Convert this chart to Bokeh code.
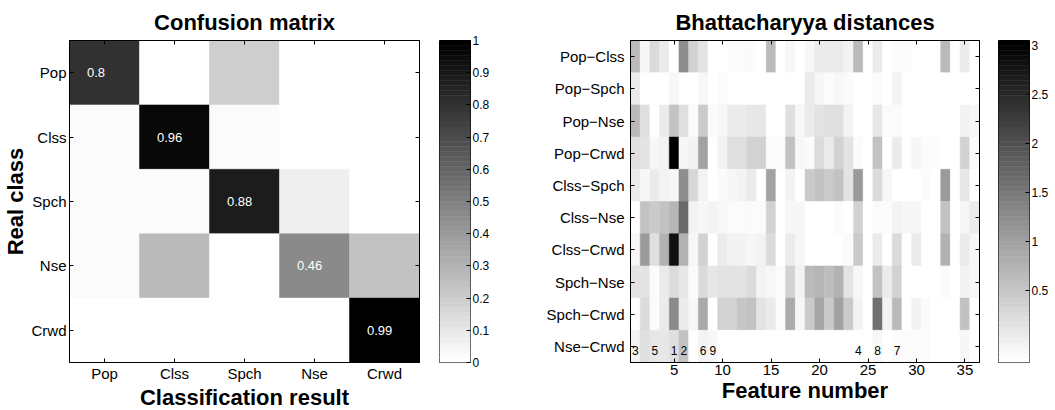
import numpy as np
from bokeh.plotting import figure
from bokeh.models import Range1d, FixedTicker, LinearAxis, ColumnDataSource, LinearColorMapper
from bokeh.layouts import row
from bokeh.embed import file_html
from bokeh.resources import INLINE
from bokeh.transform import transform
from bokeh.core.properties import value

# ---------------- data ----------------
classes = ["Pop", "Clss", "Spch", "Nse", "Crwd"]
conf_pop = [0.80, 0.00, 0.20, 0.00, 0.00]
conf_clss = [0.02, 0.96, 0.02, 0.00, 0.00]
conf_spch = [0.03, 0.02, 0.88, 0.07, 0.00]
conf_nse = [0.03, 0.27, 0.00, 0.46, 0.24]
conf_crwd = [0.00, 0.00, 0.00, 0.01, 0.99]
conf_ticks = [0, 0.1, 0.2, 0.3, 0.4, 0.5, 0.6, 0.7, 0.8, 0.9, 1]

pairs = ["Pop\u2212Clss", "Pop\u2212Spch", "Pop\u2212Nse", "Pop\u2212Crwd", "Clss\u2212Spch",
         "Clss\u2212Nse", "Clss\u2212Crwd", "Spch\u2212Nse", "Spch\u2212Crwd", "Nse\u2212Crwd"]
pop_clss = [0.68, -0.10, 0.27, 0.03, -0.23, 1.21, 0.37, 0.17, -0.23, -0.23, -0.17, -0.17,
            -0.14, -0.23, 0.68, -0.23, -0.10, -0.23, -0.10, 0.03, 0.03, 0.03, -0.04, 0.68,
            -0.23, 0.03, -0.23, -0.17, -0.17, -0.23, -0.23, -0.23, 0.68, -0.23, 0.03, -0.23]
pop_spch = [0.03, -0.23, -0.23, -0.23, -0.10, -0.23, -0.23, -0.10, -0.23, -0.17, -0.23, -0.23,
            -0.23, -0.23, -0.23, -0.23, -0.23, -0.23, 0.03, -0.10, -0.14, -0.10, -0.17, -0.23,
            -0.23, -0.17, -0.23, -0.04, -0.23, -0.23, -0.23, -0.23, -0.23, -0.23, -0.23, -0.23]
pop_nse = [0.68, 0.22, -0.23, 0.03, 0.58, 0.22, -0.14, 0.48, -0.14, -0.10, 0.03, 0.03,
           0.09, 0.09, -0.23, -0.23, 0.22, -0.10, 0.03, 0.17, 0.22, 0.22, -0.04, -0.23,
           -0.23, 0.09, -0.14, -0.14, -0.23, -0.23, -0.23, -0.23, -0.23, -0.23, -0.04, -0.10]
pop_crwd = [0.22, 0.17, -0.10, -0.04, 3.05, -0.10, -0.04, 0.99, -0.23, -0.04, 0.22, 0.22,
            0.37, 0.37, -0.17, -0.17, 0.58, -0.10, -0.14, 0.27, 0.03, 0.37, 0.17, -0.17,
            -0.23, 0.58, -0.23, 0.03, -0.23, -0.10, -0.14, -0.14, -0.23, -0.23, 0.37, -0.17]
clss_spch = [0.03, -0.10, 0.03, -0.04, -0.10, 1.21, 0.31, -0.04, -0.23, -0.17, -0.10, -0.04,
             0.03, -0.23, 0.99, -0.23, -0.04, -0.23, 0.48, 0.58, 0.48, 0.58, 0.17, 1.09,
             -0.23, 0.27, -0.10, -0.23, -0.23, -0.23, -0.17, -0.23, 1.09, -0.23, 0.09, -0.23]
clss_nse = [-0.23, 0.58, 0.48, 0.58, 0.72, 1.71, -0.04, -0.10, -0.04, -0.10, -0.17, -0.17,
            -0.17, -0.17, 0.37, -0.23, -0.10, -0.10, -0.23, -0.23, -0.23, -0.17, -0.23, 0.37,
            -0.23, -0.14, -0.14, -0.04, -0.10, -0.10, -0.23, -0.23, 0.58, -0.23, -0.10, 0.03]
clss_crwd = [-0.10, 1.09, 0.22, 0.79, 2.84, 0.79, -0.10, 0.37, -0.23, 0.03, -0.04, -0.04,
             -0.10, -0.04, 0.27, -0.23, 0.03, -0.10, -0.23, -0.23, -0.23, -0.23, -0.17, 0.48,
             -0.23, 0.03, -0.23, 0.27, -0.23, 0.03, -0.23, -0.23, 0.79, -0.23, 0.07, -0.10]
spch_nse = [0.17, 0.17, -0.17, 0.03, 0.27, 0.09, -0.17, 0.27, 0.09, 0.17, 0.17, 0.17,
            0.27, -0.04, -0.10, -0.17, 0.37, -0.04, 0.68, 0.72, 0.60, 0.79, 0.17, -0.10,
            -0.23, 0.58, 0.03, 0.37, -0.23, -0.23, -0.23, -0.23, -0.17, -0.23, -0.04, -0.10]
spch_crwd = [-0.23, 0.27, -0.17, 0.03, 1.27, 0.03, -0.10, 0.89, -0.23, 0.37, 0.37, 0.52,
             0.58, 0.17, 0.03, -0.17, 0.89, -0.10, 0.48, 0.93, 0.48, 0.95, 0.48, -0.04,
             -0.23, 1.61, -0.04, 0.68, -0.23, -0.04, -0.17, -0.23, -0.23, -0.23, 0.58, -0.23]
nse_crwd = [-0.04, 0.22, 0.09, 0.09, 0.22, 0.58, -0.23, -0.04, -0.10, -0.23, -0.23, -0.23,
            -0.23, -0.23, -0.23, -0.23, -0.23, -0.23, -0.23, -0.23, -0.23, -0.23, -0.23, -0.23,
            -0.23, -0.10, -0.23, -0.17, -0.17, -0.14, -0.14, -0.23, -0.23, -0.23, -0.10, -0.23]
feature_ticks = [5, 10, 15, 20, 25, 30, 35]
dist_ticks = [0.5, 1, 1.5, 2, 2.5, 3]
dist_low, dist_high = -0.23, 3.05
rank_features = [1, 3, 5, 6, 8, 9, 24, 26, 28]
rank_labels = ["3", "5", "1", "2", "6", "9", "4", "8", "7"]

# ---------------- styling ----------------
FONT = "Liberation Sans"
grey64 = ["#%02x%02x%02x" % (g, g, g) for g in np.linspace(255, 0, 64).round().astype(int)]
TOP = 40
BOTTOM = 46
FH = 322
BIG = "22px"


def style_axis(ax, size="15px", standoff=3):
    ax.major_tick_in = 4
    ax.major_tick_out = 0
    ax.minor_tick_line_color = None
    ax.axis_line_color = "black"
    ax.major_tick_line_color = "black"
    ax.major_label_text_font = FONT
    ax.major_label_text_color = "black"
    ax.major_label_standoff = standoff
    ax.major_label_text_font_size = size
    ax.axis_label_text_font = FONT
    ax.axis_label_text_font_style = "bold"
    ax.axis_label_text_font_size = BIG
    ax.axis_label_text_color = "black"
    ax.axis_label_standoff = 0


def tick_only_axis(p, ticks, loc):
    # frame ticks without labels (drawn as minor ticks, which carry no labels)
    ax = LinearAxis(ticker=FixedTicker(ticks=[], minor_ticks=ticks))
    ax.minor_tick_in = 4
    ax.minor_tick_out = 0
    ax.minor_tick_line_color = "black"
    ax.major_tick_line_color = None
    ax.axis_line_color = "black"
    ax.major_label_standoff = 0
    p.add_layout(ax, loc)


def base_fig(xr, yr, fw, title, bl, br):
    p = figure(frame_width=fw, frame_height=FH, x_range=xr, y_range=yr,
               output_backend="svg", toolbar_location=None, title=title,
               min_border_left=bl, min_border_right=br, min_border_top=TOP,
               min_border_bottom=BOTTOM)
    p.title.text_font = FONT
    p.title.text_font_size = BIG
    p.title.text_font_style = "bold"
    p.title.align = "center"
    p.title.text_color = "black"
    p.title.standoff = 12
    p.xgrid.visible = False
    p.ygrid.visible = False
    p.outline_line_color = "black"
    p.background_fill_color = "white"
    return p


def colorbar_fig(mapper, ticks, lo, hi, bl, br, label_size="12px"):
    cb = figure(frame_width=31, frame_height=FH, x_range=Range1d(0, 1), y_range=Range1d(lo, hi),
                output_backend="svg", toolbar_location=None, min_border_left=bl,
                min_border_right=br, min_border_top=TOP, min_border_bottom=BOTTOM)
    n = len(mapper.palette)
    edges = np.linspace(lo, hi, n + 1)
    cb.quad(left=0, right=1, bottom=edges[:-1], top=edges[1:],
            fill_color=mapper.palette, line_color=mapper.palette, line_width=0.5)
    cb.xaxis.visible = False
    cb.yaxis.visible = False
    cb.xgrid.visible = False
    cb.ygrid.visible = False
    cb.outline_line_color = "black"
    ax = LinearAxis(ticker=FixedTicker(ticks=ticks))
    style_axis(ax, label_size, standoff=2)
    ax.axis_line_color = None
    cb.add_layout(ax, "right")
    return cb


# ---------------- confusion matrix ----------------
conf_rows = [conf_pop, conf_clss, conf_spch, conf_nse, conf_crwd]
cx, cy, cv = [], [], []
for i, r in enumerate(conf_rows):
    for j, v in enumerate(r):
        cx.append(j + 1)
        cy.append(i + 1)
        cv.append(v)
conf_map = LinearColorMapper(palette=grey64, low=0, high=1)
p1 = base_fig(Range1d(0.5, 5.5), Range1d(5.5, 0.5), 350, "Confusion matrix", 66, 10)
p1.rect(x="x", y="y", width=1, height=1, source=ColumnDataSource(dict(x=cx, y=cy, v=cv)),
        fill_color=transform("v", conf_map), line_color=transform("v", conf_map), line_width=0.5)
diag = [conf_rows[i][i] for i in range(5)]
p1.text(x=[i + 1 - 0.25 for i in range(5)], y=[i + 1 for i in range(5)],
        text=[f"{v:g}" for v in diag], text_color="white", text_font=value(FONT),
        text_font_size="13px", text_align="left", text_baseline="middle")
cls_over = {i + 1: c for i, c in enumerate(classes)}
p1.xaxis[0].ticker = FixedTicker(ticks=[1, 2, 3, 4, 5])
p1.xaxis[0].major_label_overrides = cls_over
style_axis(p1.xaxis[0], "15px", standoff=2)
p1.yaxis[0].ticker = FixedTicker(ticks=[1, 2, 3, 4, 5])
p1.yaxis[0].major_label_overrides = cls_over
style_axis(p1.yaxis[0], "15px", standoff=3)
p1.xaxis.axis_label = "Classification result"
p1.yaxis.axis_label = "Real class"
tick_only_axis(p1, [1, 2, 3, 4, 5], "above")
tick_only_axis(p1, [1, 2, 3, 4, 5], "right")

cb1 = colorbar_fig(conf_map, conf_ticks, 0, 1, 10, 73)

# ---------------- Bhattacharyya ----------------
dist_rows = [pop_clss, pop_spch, pop_nse, pop_crwd, clss_spch, clss_nse, clss_crwd,
             spch_nse, spch_crwd, nse_crwd]
bx, by, bv = [], [], []
for i, r in enumerate(dist_rows):
    for j, v in enumerate(r):
        bx.append(j + 1)
        by.append(i + 1)
        bv.append(v)
dist_map = LinearColorMapper(palette=grey64, low=dist_low, high=dist_high)
p2 = base_fig(Range1d(0.5, 36.5), Range1d(10.5, 0.5), 349, "Bhattacharyya distances", 80, 10)
p2.rect(x="x", y="y", width=1, height=1, source=ColumnDataSource(dict(x=bx, y=by, v=bv)),
        fill_color=transform("v", dist_map), line_color=transform("v", dist_map), line_width=0.5)
p2.text(x=rank_features, y=[10] * len(rank_features), text=rank_labels, text_color="black",
        text_font=value(FONT), text_font_size="12px", text_align="center",
        text_baseline="middle", y_offset=4)
p2.xaxis[0].ticker = FixedTicker(ticks=feature_ticks)
p2.yaxis[0].ticker = FixedTicker(ticks=list(range(1, 11)))
p2.yaxis[0].major_label_overrides = {i + 1: s for i, s in enumerate(pairs)}
style_axis(p2.xaxis[0], "15px", standoff=2)
style_axis(p2.yaxis[0], "15px", standoff=6)
p2.xaxis.axis_label = "Feature number"
tick_only_axis(p2, feature_ticks, "above")
tick_only_axis(p2, list(range(1, 11)), "right")

cb2 = colorbar_fig(dist_map, dist_ticks, dist_low, dist_high, 9, 16)

layout = row(p1, cb1, p2, cb2)
open("out.html", "w").write(file_html(layout, INLINE))
